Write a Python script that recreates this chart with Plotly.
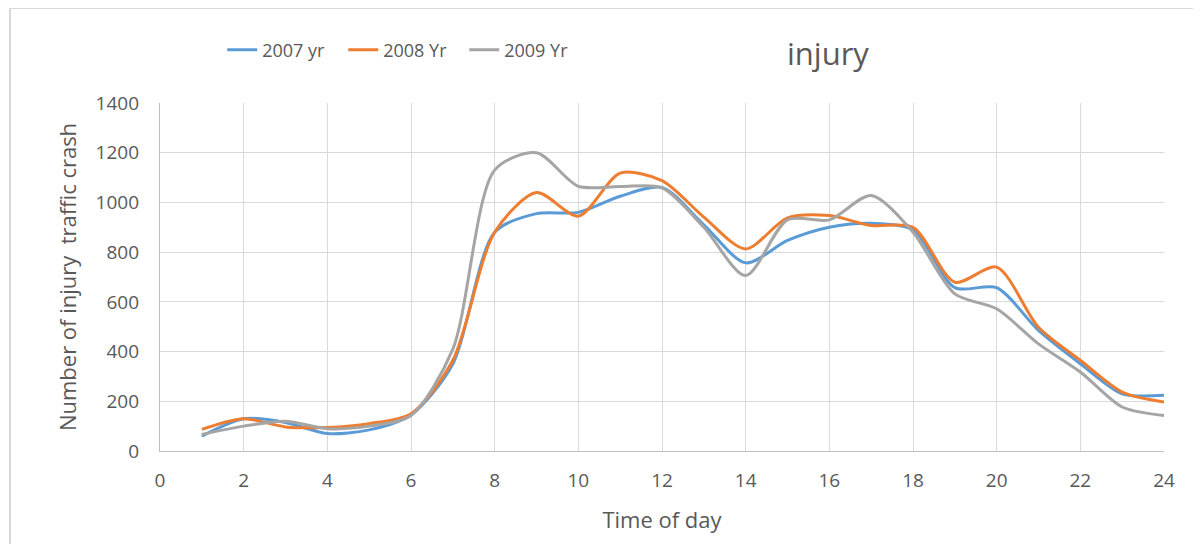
import plotly.graph_objects as go

hours = list(range(1, 25))
y2007 = [60, 130, 115, 70, 85, 145, 350, 880, 955, 960, 1025, 1060, 910, 757, 847, 900, 916, 890, 657, 657, 485, 351, 230, 224]
y2008 = [87, 130, 97, 95, 110, 150, 365, 880, 1040, 945, 1118, 1088, 941, 813, 938, 947, 907, 900, 679, 740, 498, 365, 237, 197]
y2009 = [67, 100, 120, 90, 100, 143, 410, 1130, 1200, 1065, 1064, 1059, 900, 706, 930, 930, 1028, 880, 632, 572, 431, 318, 177, 143]

series = [("2007 yr", y2007, "#5B9BD5"),
          ("2008 Yr", y2008, "#ED7D31"),
          ("2009 Yr", y2009, "#A5A5A5")]

fig = go.Figure()
for name, vals, col in series:
    fig.add_trace(go.Scatter(x=hours, y=vals, name=name, mode="lines",
                             line=dict(color=col, width=3, shape="spline", smoothing=0.8)))

grid = "#D9D9D9"
txt = "#595959"

# page has an 8px body margin, so margins are shifted by 8
fig.update_layout(
    width=1201, height=544,
    margin=dict(l=152, r=45, t=95, b=101),
    paper_bgcolor="white", plot_bgcolor="white",
    font=dict(family="Open Sans, sans-serif", size=19, color=txt),
    showlegend=True,
    legend=dict(orientation="h", x=0.062, xanchor="left", y=1.152, yanchor="middle",
                font=dict(size=18, color=txt), entrywidth=76, entrywidthmode="pixels"),
    xaxis=dict(range=[0, 24], dtick=2, showgrid=True, gridcolor=grid, gridwidth=1.3,
               showline=True, linecolor="#BFBFBF", linewidth=1.3, zeroline=False,
               ticks="", ticklabelstandoff=12,
               title=dict(text="Time of day", font=dict(size=22, color=txt), standoff=20)),
    yaxis=dict(range=[0, 1400], dtick=200, showgrid=True, gridcolor=grid, gridwidth=1.3,
               showline=True, linecolor="#BFBFBF", linewidth=1.3, zeroline=False,
               ticks="", ticklabelstandoff=16,
               title=dict(text="Number of injury  traffic crash", font=dict(size=22, color=txt), standoff=12)),
)

fig.add_annotation(text="injury", xref="paper", yref="paper", x=0.665, y=1.144,
                   xanchor="center", yanchor="middle", showarrow=False,
                   font=dict(size=31, color=txt))

# chart border like the Excel frame
fig.add_shape(type="rect", xref="paper", yref="paper",
              x0=-0.1494, x1=1.2, y0=-0.5, y1=1.273,
              line=dict(color="#D9D9D9", width=2), layer="below")

fig.write_html("out.html")
